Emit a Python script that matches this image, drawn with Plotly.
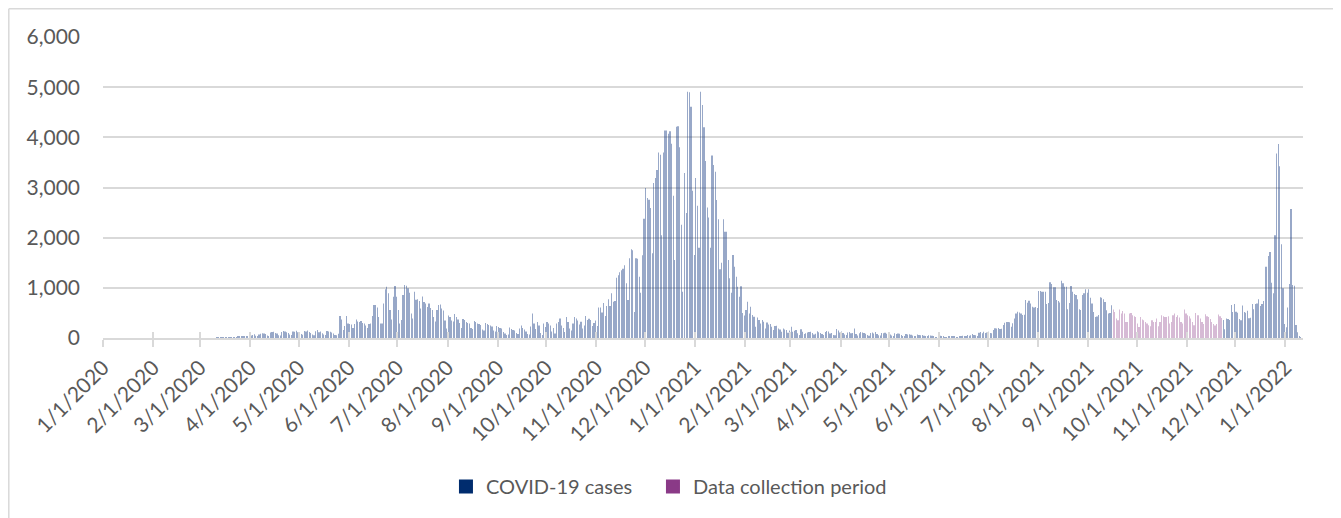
import pandas as pd
import plotly.graph_objects as go

# daily reported COVID-19 cases, one list per month
jan_2020 = [0, 0, 0, 0, 0, 0, 0, 0, 0, 0, 0, 0, 0, 0, 0, 0, 0, 0, 0, 0, 0, 0, 0, 0, 0, 0, 0, 0, 0, 0, 0]
feb_2020 = [0, 0, 0, 0, 0, 0, 0, 0, 0, 0, 0, 0, 0, 0, 0, 0, 0, 0, 0, 0, 0, 0, 0, 0, 0, 0, 0, 0, 0]
mar_2020 = [0, 0, 0, 0, 0, 0, 0, 0, 0, 0, 2, 1, 4, 6, 3, 8, 10, 12, 9, 15, 18, 12, 20, 24, 30, 28, 35, 22, 30, 40, 45]
apr_2020 = [50, 60, 75, 45, 35, 70, 85, 95, 90, 80, 50, 40, 110, 120, 125, 100, 90, 55, 50, 120, 140, 130, 115, 100, 70, 60, 130, 125, 145, 115]
may_2020 = [110, 80, 65, 140, 130, 150, 120, 100, 70, 55, 135, 160, 115, 130, 95, 70, 60, 140, 130, 125, 110, 90, 60, 55, 85, 440, 370, 160, 240, 440, 290]
jun_2020 = [280, 270, 200, 280, 370, 330, 320, 340, 300, 290, 250, 200, 280, 290, 440, 660, 660, 610, 420, 290, 290, 690, 970, 1020, 890, 560, 370, 820, 1035, 820]
jul_2020 = [560, 290, 360, 855, 1055, 1040, 990, 900, 490, 390, 920, 760, 770, 740, 590, 825, 720, 690, 620, 690, 600, 560, 420, 330, 560, 660, 670, 590, 550, 350, 190]
aug_2020 = [450, 420, 350, 330, 480, 420, 370, 300, 200, 380, 360, 320, 300, 290, 200, 180, 340, 320, 290, 280, 260, 170, 150, 300, 280, 260, 250, 230, 150, 130, 240]
sep_2020 = [220, 200, 190, 120, 90, 60, 70, 210, 180, 160, 150, 100, 80, 190, 250, 200, 170, 130, 80, 70, 230, 490, 290, 180, 320, 250, 100, 60, 290, 220]
oct_2020 = [320, 290, 250, 130, 200, 90, 290, 320, 390, 250, 200, 120, 420, 320, 190, 150, 290, 420, 390, 350, 270, 325, 190, 250, 440, 360, 385, 360, 240, 300, 350]
nov_2020 = [240, 610, 610, 510, 700, 440, 640, 770, 640, 890, 725, 740, 1200, 1250, 1310, 1350, 1380, 1450, 1090, 755, 1590, 1770, 1750, 520, 1590, 1580, 1220, 900, 1650, 2375]
dec_2020 = [2990, 2790, 2755, 2590, 1690, 3090, 3190, 3350, 3700, 3655, 2050, 3700, 4135, 4135, 4070, 4120, 3870, 2835, 1555, 4210, 4220, 3800, 2255, 920, 3290, 2490, 4910, 4900, 4610, 2935, 1655]
jan_2021 = [3190, 2635, 1800, 4910, 4645, 4200, 3530, 2600, 2400, 1800, 3640, 3450, 3315, 2750, 2365, 1370, 1500, 2365, 2120, 2120, 1555, 1190, 900, 1655, 1420, 1220, 1020, 820, 1030, 500, 450]
feb_2021 = [560, 725, 490, 625, 460, 425, 225, 410, 360, 290, 360, 325, 190, 310, 270, 280, 225, 160, 240, 245, 190, 170, 125, 190, 170, 160, 105, 150]
mar_2021 = [225, 125, 145, 160, 93, 60, 173, 125, 80, 95, 110, 120, 125, 100, 70, 85, 135, 115, 100, 80, 60, 120, 140, 130, 90, 100, 60, 55, 180, 150, 110]
apr_2021 = [130, 100, 70, 60, 110, 120, 95, 100, 190, 80, 50, 95, 120, 110, 100, 85, 60, 45, 100, 110, 90, 120, 80, 55, 50, 100, 95, 105, 85, 70]
may_2021 = [70, 50, 40, 95, 80, 90, 85, 60, 40, 35, 80, 70, 75, 65, 50, 35, 30, 70, 60, 55, 60, 45, 30, 25, 55, 50, 45, 40, 20, 15, 20]
jun_2021 = [45, 40, 25, 20, 15, 30, 35, 30, 40, 25, 20, 15, 40, 35, 45, 40, 25, 60, 45, 55, 80, 60, 55, 40, 106, 120, 95, 126, 100, 110]
jul_2021 = [126, 100, 95, 160, 193, 190, 200, 180, 185, 260, 305, 320, 320, 315, 225, 292, 390, 490, 525, 510, 490, 460, 465, 757, 704, 745, 690, 625, 610, 620, 600]
aug_2021 = [936, 936, 923, 923, 923, 677, 700, 1110, 1075, 1010, 1010, 757, 740, 710, 1140, 1090, 1023, 1023, 571, 700, 1035, 923, 876, 856, 770, 571, 558, 856, 890, 970, 900]
sep_2021 = [970, 800, 687, 520, 420, 430, 458, 810, 800, 770, 720, 553, 487, 500, 654, 567, 520, 387, 353, 567, 487, 540, 487, 320, 320, 487, 500, 453, 433, 420]
oct_2021 = [287, 220, 420, 367, 353, 320, 287, 253, 233, 353, 320, 320, 387, 233, 320, 453, 433, 420, 420, 433, 287, 320, 453, 487, 420, 453, 407, 320, 287, 567, 487]
nov_2021 = [453, 433, 387, 320, 253, 500, 453, 453, 387, 320, 280, 473, 433, 420, 380, 320, 280, 250, 280, 467, 433, 400, 360, 175, 390, 380, 360, 660, 520, 680]
dec_2021 = [525, 505, 378, 352, 650, 518, 505, 544, 392, 405, 677, 571, 677, 690, 770, 637, 677, 740, 1420, 1420, 1633, 1713, 1100, 890, 2050, 3680, 3865, 3425, 1870, 990, 280]
jan_2022 = [212, 610, 1075, 2570, 1055, 1040, 260, 113, 40, 20]

# first and last day of the data collection period
collection_start = '2021-09-16'
collection_end = '2021-11-22'

month_ticks = ['2020-01-01', '2020-02-01', '2020-03-01', '2020-04-01', '2020-05-01', '2020-06-01',
               '2020-07-01', '2020-08-01', '2020-09-01', '2020-10-01', '2020-11-01', '2020-12-01',
               '2021-01-01', '2021-02-01', '2021-03-01', '2021-04-01', '2021-05-01', '2021-06-01',
               '2021-07-01', '2021-08-01', '2021-09-01', '2021-10-01', '2021-11-01', '2021-12-01',
               '2022-01-01']
month_labels = ['1/1/2020', '2/1/2020', '3/1/2020', '4/1/2020', '5/1/2020', '6/1/2020',
                '7/1/2020', '8/1/2020', '9/1/2020', '10/1/2020', '11/1/2020', '12/1/2020',
                '1/1/2021', '2/1/2021', '3/1/2021', '4/1/2021', '5/1/2021', '6/1/2021',
                '7/1/2021', '8/1/2021', '9/1/2021', '10/1/2021', '11/1/2021', '12/1/2021',
                '1/1/2022']

months = [jan_2020, feb_2020, mar_2020, apr_2020, may_2020, jun_2020, jul_2020, aug_2020,
          sep_2020, oct_2020, nov_2020, dec_2020, jan_2021, feb_2021, mar_2021, apr_2021,
          may_2021, jun_2021, jul_2021, aug_2021, sep_2021, oct_2021, nov_2021, dec_2021,
          jan_2022]
cases = [v for m in months for v in m]

df = pd.DataFrame({'date': pd.date_range('2020-01-01', periods=len(cases), freq='D'),
                   'cases': cases})
df['mid'] = df['date'] + pd.Timedelta(hours=12)
in_period = (df['date'] >= collection_start) & (df['date'] <= collection_end)
dfb = df[~in_period]
dfp = df[in_period]

BLUE = '#002c6e'
BAR_BLUE = '#1a3f85'
PURPLE = '#8a3a87'
GRID = '#d9d9d9'
TEXT = '#595959'
FONT = 'Lato'
DAY_MS = 86400000
# very thin bars: plotly snaps them to whole pixels, giving 1px lines with gaps
BAR_W = 0.15 * DAY_MS

fig = go.Figure()
fig.add_trace(
    go.Bar(x=dfb['mid'], y=dfb['cases'], width=BAR_W,
           marker=dict(color=BAR_BLUE, opacity=0.45, line=dict(width=0)),
           showlegend=False, hovertemplate='%{x|%m/%d/%Y}: %{y}<extra></extra>')
)
fig.add_trace(
    go.Bar(x=dfp['mid'], y=dfp['cases'], width=BAR_W,
           marker=dict(color=PURPLE, opacity=0.35, line=dict(width=0)),
           showlegend=False, hovertemplate='%{x|%m/%d/%Y}: %{y}<extra></extra>')
)
# legend entries (solid squares), one legend each so they can be placed like the original
fig.add_trace(go.Bar(x=[None], y=[None], name='COVID-19 cases', legend='legend',
                     marker=dict(color=BLUE, line=dict(color=BLUE, width=2))))
fig.add_trace(go.Bar(x=[None], y=[None], name='Data collection period', legend='legend2',
                     marker=dict(color=PURPLE, line=dict(color=PURPLE, width=2))))
# carrier for the upper half of the crossing tick marks
fig.add_trace(go.Scatter(x=[month_ticks[0]], y=[0], xaxis='x2', mode='markers',
                         marker=dict(opacity=0), showlegend=False, hoverinfo='skip'))

x_range = ['2020-01-01', '2022-01-11 21:00']
legend_font = dict(family=FONT, size=20, color=TEXT)

fig.update_layout(
    width=1333, height=510,
    barmode='overlay',
    plot_bgcolor='white', paper_bgcolor='white',
    margin=dict(l=95, r=38, t=29, b=180),
    font=dict(family=FONT, size=21, color=TEXT),
    xaxis=dict(
        type='date', range=x_range,
        tickmode='array', tickvals=month_ticks, ticktext=month_labels,
        tickangle=-45, tickfont=dict(family=FONT, size=21, color=TEXT),
        ticks='outside', ticklen=7, tickwidth=2, tickcolor=GRID,
        showline=True, linecolor=GRID, linewidth=2,
        showgrid=False, zeroline=False,
    ),
    xaxis2=dict(
        type='date', range=x_range, overlaying='x', anchor='y', side='bottom',
        tickmode='array', tickvals=month_ticks, showticklabels=False,
        ticks='inside', ticklen=6, tickwidth=2, tickcolor=GRID,
        showline=False, showgrid=False, zeroline=False,
    ),
    yaxis=dict(
        range=[0, 6000], tickmode='linear', tick0=0, dtick=1000, tickformat=',',
        tickfont=dict(family=FONT, size=21, color=TEXT),
        showgrid=True, gridcolor=GRID, gridwidth=2,
        zeroline=False, showline=False, ticks='', ticklabelstandoff=22,
    ),
    legend=dict(
        orientation='h', x=0.2858, xanchor='left', y=-0.493, yanchor='middle',
        font=legend_font, itemclick=False,
    ),
    legend2=dict(
        orientation='h', x=0.4583, xanchor='left', y=-0.493, yanchor='middle',
        font=legend_font, itemclick=False,
    ),
    shapes=[
        dict(type='line', xref='paper', yref='paper', x0=-0.0785, x1=-0.0785, y0=1.0939, y1=-0.62,
             line=dict(color=GRID, width=1.5)),
        dict(type='line', xref='paper', yref='paper', x0=-0.0785, x1=1.04, y0=1.0939, y1=1.0939,
             line=dict(color=GRID, width=1.5)),
    ],
)

fig.write_html('out.html')
